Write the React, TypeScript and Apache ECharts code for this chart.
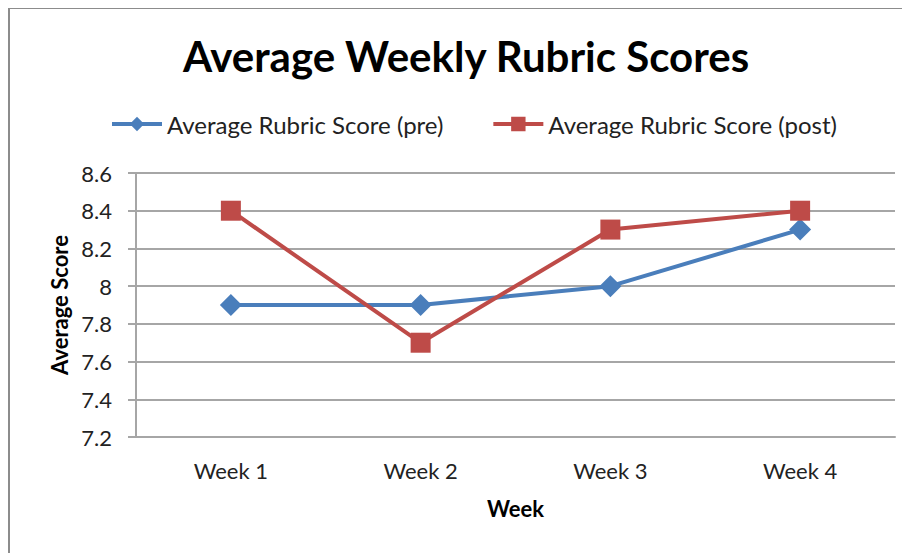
import React, { useEffect, useRef } from "react";
import * as echarts from "echarts";

const categories = ["Week 1", "Week 2", "Week 3", "Week 4"];
const preScores = [7.9, 7.9, 8.0, 8.3];
const postScores = [8.4, 7.7, 8.3, 8.4];
const seriesNames = ["Average Rubric Score (pre)", "Average Rubric Score (post)"];
const titleText = "Average Weekly Rubric Scores";
const yAxisTitle = "Average Score";
const xAxisTitle = "Week";

const FONT = "Lato, 'Noto Sans', sans-serif";
const BLUE = "#4A7EBB";
const RED = "#BE4B48";

export default function App() {
  const ref = useRef<HTMLDivElement>(null);
  useEffect(() => {
    if (!ref.current) return;
    const chart = echarts.init(ref.current, null, { renderer: "svg" });
    chart.setOption({
      animation: false,
      backgroundColor: "#ffffff",
      title: {
        text: titleText,
        left: 453,
        textAlign: "center",
        top: 22,
        textStyle: { fontFamily: FONT, fontSize: 42, fontWeight: "bold", color: "#000" },
      },
      legend: {
        left: 97,
        top: 99,
        itemWidth: 50,
        itemHeight: 18,
        itemGap: 48,
        lineStyle: { width: 4 },
        textStyle: { fontFamily: FONT, fontSize: 24, color: "#222" },
        data: seriesNames,
      },
      graphic: [
        {
          type: "rect",
          shape: { x: 1, y: 0, width: 1200, height: 1000 },
          style: { fill: "none", stroke: "#8c8c8c", lineWidth: 2 },
          silent: true,
        },
      ],
      grid: { left: 128, right: 15, top: 165, bottom: 116 },
      xAxis: {
        type: "category",
        data: categories,
        boundaryGap: true,
        name: xAxisTitle,
        nameLocation: "middle",
        nameGap: 60,
        nameTextStyle: { fontFamily: FONT, fontSize: 22, fontWeight: "bold", color: "#000" },
        axisLine: { show: true, lineStyle: { color: "#a6a6a6", width: 2 } },
        axisTick: { show: false },
        axisLabel: { margin: 22, fontFamily: FONT, fontSize: 22, color: "#222" },
      },
      yAxis: {
        type: "value",
        min: 7.2,
        max: 8.6,
        interval: 0.2,
        name: yAxisTitle,
        nameLocation: "middle",
        nameGap: 66,
        nameTextStyle: { fontFamily: FONT, fontSize: 22, fontWeight: "bold", color: "#000" },
        axisLine: { show: true, lineStyle: { color: "#a6a6a6", width: 2 } },
        axisTick: { show: true, inside: false, length: 8, lineStyle: { color: "#a6a6a6", width: 2 } },
        splitLine: { show: true, lineStyle: { color: "#a6a6a6", width: 2 } },
        axisLabel: {
          margin: 24,
          fontFamily: FONT,
          fontSize: 22,
          color: "#222",
          formatter: (v: number) => String(Math.round(v * 10) / 10),
        },
      },
      series: [
        {
          name: seriesNames[0],
          type: "line",
          data: preScores,
          symbol: "diamond",
          symbolSize: [22, 22],
          lineStyle: { color: BLUE, width: 4 },
          itemStyle: { color: BLUE },
        },
        {
          name: seriesNames[1],
          type: "line",
          data: postScores,
          symbol: "rect",
          symbolSize: 20,
          lineStyle: { color: RED, width: 4 },
          itemStyle: { color: RED },
        },
      ],
    });
    return () => chart.dispose();
  }, []);
  return <div ref={ref} style={{ width: 902, height: 545 }} />;
}
